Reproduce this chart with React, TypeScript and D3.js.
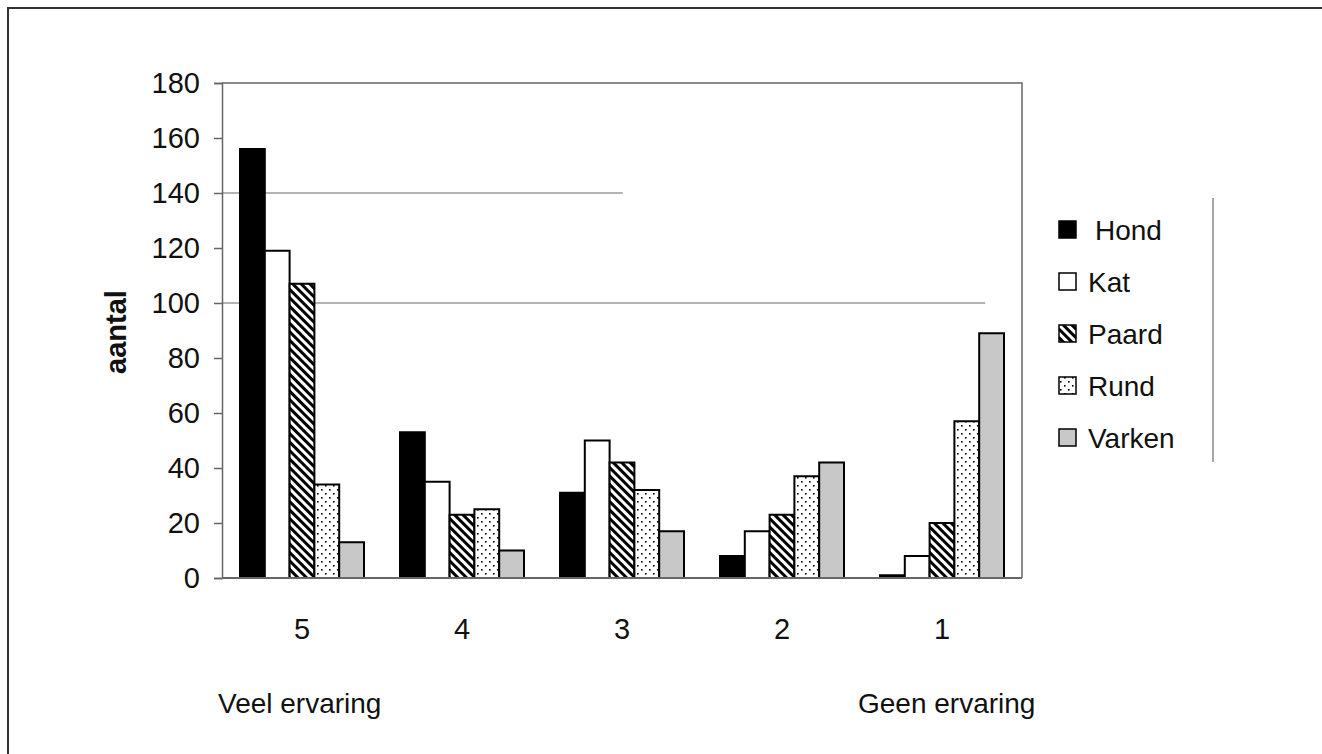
import { useEffect, useRef } from "react";
import * as d3 from "d3";

// categorieën (ervaring 5 = veel, 1 = geen)
const categories = ["5", "4", "3", "2", "1"];
const animals = ["Hond", "Kat", "Paard", "Rund", "Varken"];

const hond = [156, 53, 31, 8, 1];
const kat = [119, 35, 50, 17, 8];
const paard = [107, 23, 42, 23, 20];
const rund = [34, 25, 32, 37, 57];
const varken = [13, 10, 17, 42, 89];

const yTicks = [0, 20, 40, 60, 80, 100, 120, 140, 160, 180];

const W = 1322;
const H = 754;
const FONT = "'Liberation Sans', Arial, sans-serif";

const App = () => {
  const ref = useRef<SVGSVGElement>(null);

  useEffect(() => {
    const svg = d3.select(ref.current);
    svg.selectAll("*").remove();

    const series = [hond, kat, paard, rund, varken];
    const fills = ["#000", "#fff", "url(#hatch)", "url(#dots)", "#c8c8c8"];

    const left = 222;
    const right = 1022;
    const top = 83;
    const bottom = 578;

    // patronen
    const defs = svg.append("defs");
    const hatch = defs
      .append("pattern")
      .attr("id", "hatch")
      .attr("patternUnits", "userSpaceOnUse")
      .attr("width", 6)
      .attr("height", 6)
      .attr("patternTransform", "rotate(45)");
    hatch.append("rect").attr("width", 6).attr("height", 6).attr("fill", "#fff");
    hatch.append("rect").attr("width", 6).attr("height", 3).attr("fill", "#000");

    const dots = defs
      .append("pattern")
      .attr("id", "dots")
      .attr("patternUnits", "userSpaceOnUse")
      .attr("width", 8)
      .attr("height", 8);
    dots.append("rect").attr("width", 8).attr("height", 8).attr("fill", "#fff");
    dots.append("rect").attr("x", 1).attr("y", 1).attr("width", 1.6).attr("height", 1.6).attr("fill", "#000");
    dots.append("rect").attr("x", 5).attr("y", 5).attr("width", 1.6).attr("height", 1.6).attr("fill", "#000");

    // kader rond de figuur
    svg.append("rect").attr("width", W).attr("height", H).attr("fill", "#fff");
    svg
      .append("path")
      .attr("d", `M8,${H} V8 H${W}`)
      .attr("fill", "none")
      .attr("stroke", "#333")
      .attr("stroke-width", 2);

    const x0 = d3
      .scaleBand()
      .domain(categories)
      .range([left, right])
      .paddingInner(0.225)
      .paddingOuter(0.1125);
    const x1 = d3.scaleBand().domain(animals).range([0, x0.bandwidth()]);
    const y = d3.scaleLinear().domain([0, 180]).range([bottom, top]);

    // rasterlijnen (zoals in het origineel, niet over de volle breedte)
    const grid = [
      { v: 140, end: left + (right - left) * 0.501 },
      { v: 100, end: left + (right - left) * 0.954 },
    ];
    svg
      .selectAll("line.grid")
      .data(grid)
      .enter()
      .append("line")
      .attr("class", "grid")
      .attr("x1", left)
      .attr("x2", (d) => d.end)
      .attr("y1", (d) => y(d.v))
      .attr("y2", (d) => y(d.v))
      .attr("stroke", "#9a9a9a")
      .attr("stroke-width", 1.5);

    // y-as
    const yAxis = d3
      .axisLeft(y)
      .tickValues(yTicks)
      .tickSize(8)
      .tickPadding(14)
      .tickFormat((d) => String(d));
    svg
      .append("g")
      .attr("transform", `translate(${left},0)`)
      .call(yAxis)
      .call((g) => g.select(".domain").attr("stroke", "#666").attr("stroke-width", 1.5))
      .call((g) => g.selectAll(".tick line").attr("stroke", "#666").attr("stroke-width", 1.5))
      .call((g) =>
        g
          .selectAll(".tick text")
          .attr("fill", "#111")
          .attr("font-family", FONT)
          .attr("font-size", 29)
      );

    // bovenrand en rechterrand van het plotvlak
    svg
      .append("path")
      .attr("d", `M${left},${top} H${right} V${bottom}`)
      .attr("fill", "none")
      .attr("stroke", "#666")
      .attr("stroke-width", 1.5);

    // staven
    const groups = svg
      .selectAll("g.cat")
      .data(categories)
      .enter()
      .append("g")
      .attr("class", "cat")
      .attr("transform", (d) => `translate(${x0(d)},0)`);

    groups
      .selectAll("rect")
      .data((_, i) => series.map((s, j) => ({ animal: animals[j], v: s[i], fill: fills[j] })))
      .enter()
      .append("rect")
      .attr("x", (d) => x1(d.animal)!)
      .attr("y", (d) => y(d.v))
      .attr("width", x1.bandwidth())
      .attr("height", (d) => bottom - y(d.v))
      .attr("fill", (d) => d.fill)
      .attr("stroke", "#000")
      .attr("stroke-width", 2);

    // x-as
    svg
      .append("line")
      .attr("x1", left)
      .attr("x2", right)
      .attr("y1", bottom)
      .attr("y2", bottom)
      .attr("stroke", "#666")
      .attr("stroke-width", 2);

    svg
      .selectAll("text.cat")
      .data(categories)
      .enter()
      .append("text")
      .attr("class", "cat")
      .attr("x", (d) => x0(d)! + x0.bandwidth() / 2)
      .attr("y", 639)
      .attr("text-anchor", "middle")
      .attr("font-family", FONT)
      .attr("font-size", 29)
      .attr("fill", "#111")
      .text((d) => d);

    svg
      .append("text")
      .attr("x", 218)
      .attr("y", 713)
      .attr("font-family", FONT)
      .attr("font-size", 28)
      .attr("fill", "#111")
      .text("Veel ervaring");
    svg
      .append("text")
      .attr("x", 858)
      .attr("y", 713)
      .attr("font-family", FONT)
      .attr("font-size", 28)
      .attr("fill", "#111")
      .text("Geen ervaring");

    // y-as titel
    svg
      .append("text")
      .attr("transform", "translate(126,332) rotate(-90)")
      .attr("text-anchor", "middle")
      .attr("font-family", FONT)
      .attr("font-size", 29)
      .attr("font-weight", "bold")
      .attr("fill", "#111")
      .text("aantal");

    // legenda
    const legend = svg
      .selectAll("g.legend")
      .data(animals)
      .enter()
      .append("g")
      .attr("class", "legend")
      .attr("transform", (_, i) => `translate(1059,${240 + i * 52})`);
    legend
      .append("rect")
      .attr("x", 0)
      .attr("y", -19)
      .attr("width", 17)
      .attr("height", 17)
      .attr("fill", (_, i) => fills[i])
      .attr("stroke", "#000")
      .attr("stroke-width", 1.5);
    legend
      .append("text")
      .attr("x", (_, i) => (i === 0 ? 36 : 29))
      .attr("y", 0)
      .attr("font-family", FONT)
      .attr("font-size", 28)
      .attr("fill", "#111")
      .text((d) => d);

    svg
      .append("line")
      .attr("x1", 1213)
      .attr("x2", 1213)
      .attr("y1", 198)
      .attr("y2", 462)
      .attr("stroke", "#888")
      .attr("stroke-width", 1.5);
  }, []);

  return (
    <svg
      ref={ref}
      width={W}
      height={H}
      style={{ position: "absolute", left: 0, top: 0 }}
    />
  );
};

export default App;
